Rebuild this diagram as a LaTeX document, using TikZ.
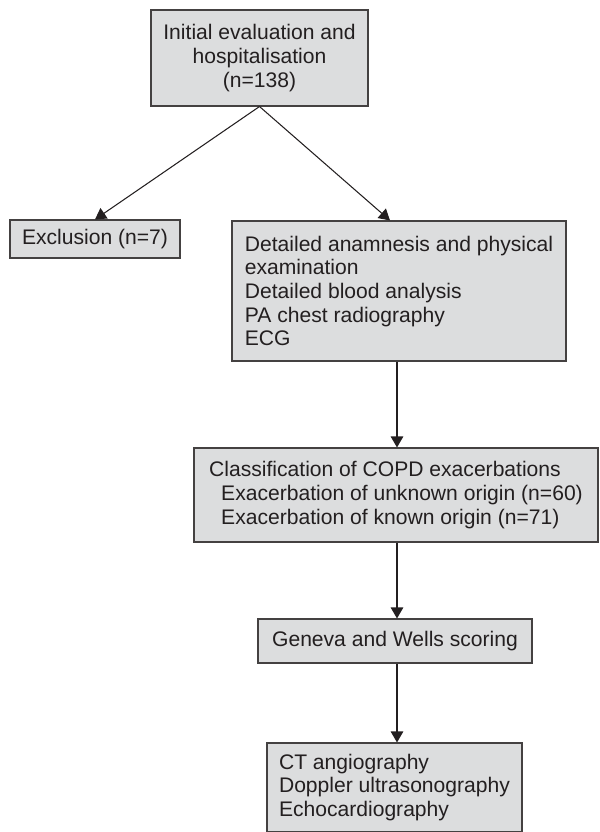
\documentclass[tikz,border=0pt]{standalone}
\usepackage{fontspec}
\setmainfont{Liberation Sans}
\usetikzlibrary{arrows.meta}
\definecolor{boxgray}{RGB}{220,221,222}
\definecolor{inkgray}{RGB}{35,31,32}
\begin{document}
\begin{tikzpicture}[line width=0.6pt,>={Triangle[length=0.22cm,width=0.25cm]},
  stage/.style={draw=inkgray!85,fill=boxgray,text=inkgray,align=left,inner sep=0pt,
    font=\fontsize{12}{13.5}\selectfont}]
\useasboundingbox (0,0) rectangle (11.98,-16.64);

\node [stage,align=center,minimum width=4.34cm,minimum height=1.92cm] (init) at (5.19,-1.16)
  {Initial evaluation and\\hospitalisation\\(n=138)};
\node [stage,align=center,minimum width=3.4cm,minimum height=0.76cm] (excl) at (1.9,-4.78)
  {Exclusion (n=7)};
\node [stage,minimum width=6.68cm,minimum height=2.8cm] (detail) at (7.98,-5.82)
  {Detailed anamnesis and physical\\examination\\Detailed blood analysis\\PA chest radiography\\ECG};
\node [stage,minimum width=8.08cm,minimum height=1.88cm] (class) at (7.92,-9.9)
  {Classification of COPD exacerbations\\
   \hspace*{0.24cm}Exacerbation of unknown origin (n=60)\\
   \hspace*{0.24cm}Exacerbation of known origin (n=71)};
\node [stage,minimum width=5.48cm,minimum height=0.88cm] (score) at (7.9,-12.82)
  {Geneva and Wells scoring};
\node [stage,minimum width=5.1cm,minimum height=1.78cm] (imaging) at (7.89,-15.75)
  {CT angiography\\Doppler ultrasonography\\Echocardiography};

\draw[->,inkgray] (init.south) -- (excl.north);
\draw[->,inkgray] (init.south) -- ([xshift=-0.18cm]detail.north);
\draw[->,inkgray] ([xshift=-0.04cm]detail.south) -- ([xshift=-0.04cm]detail.south |- class.north);
\draw[->,inkgray] ([xshift=-0.04cm]detail.south |- class.south) -- ([xshift=-0.04cm]detail.south |- score.north);
\draw[->,inkgray] ([xshift=-0.04cm]detail.south |- score.south) -- ([xshift=-0.04cm]detail.south |- imaging.north);

\end{tikzpicture}
\end{document}
